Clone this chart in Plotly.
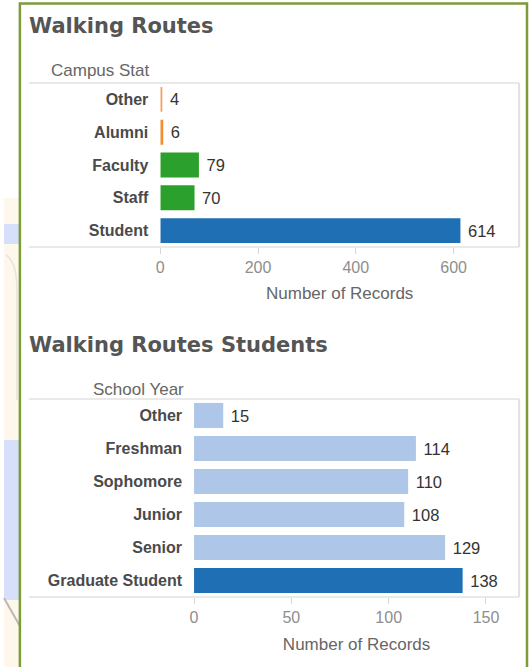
import plotly.graph_objects as go

# ---- data ----
campus_status = ["Other", "Alumni", "Faculty", "Staff", "Student"]
campus_records = [4, 6, 79, 70, 614]
campus_colors = ["#f4a15d", "#f28e2b", "#2ca02c", "#2ca02c", "#1f6fb4"]

school_years = ["Other", "Freshman", "Sophomore", "Junior", "Senior", "Graduate Student"]
school_records = [15, 114, 110, 108, 129, 138]
school_colors = ["#aec7e8", "#aec7e8", "#aec7e8", "#aec7e8", "#aec7e8", "#1f6fb4"]

campus_ticks = [0, 200, 400, 600]
school_ticks = [0, 50, 100, 150]

# ---- page geometry (pixels) ----
W, H = 529, 667


def fx(x):
    return x / W


def fy(y):
    return 1 - y / H


LABEL_FONT = dict(family="Liberation Sans, Arial, sans-serif", size=16, color="#4a4a4a")
VALUE_FONT = dict(family="Liberation Sans, Arial, sans-serif", size=16.5, color="#333333")
TICK_FONT = dict(family="Liberation Sans, Arial, sans-serif", size=16, color="#8e8e8e")
AXTITLE_FONT = dict(family="Liberation Sans, Arial, sans-serif", size=17, color="#666666")
TITLE_FONT = dict(family="DejaVu Sans, Verdana, sans-serif", size=21, color="#555555")
LINE = "#e2e2e2"


def value_text(values):
    # a no-break space keeps the label a little clear of the bar end
    return ["\u00a0" + str(v) for v in values]


fig = go.Figure()

fig.add_trace(go.Bar(
    x=campus_records, y=campus_status, orientation="h",
    marker=dict(color=campus_colors, line=dict(width=0)),
    text=value_text(campus_records), textposition="outside",
    textfont=VALUE_FONT, constraintext="none", cliponaxis=False,
    hoverinfo="skip", xaxis="x", yaxis="y",
))

fig.add_trace(go.Bar(
    x=school_records, y=school_years, orientation="h",
    marker=dict(color=school_colors, line=dict(width=0)),
    text=value_text(school_records), textposition="outside",
    textfont=VALUE_FONT, constraintext="none", cliponaxis=False,
    hoverinfo="skip", xaxis="x2", yaxis="y2",
))

axis_common = dict(
    showgrid=False, zeroline=False, showline=False,
    ticks="outside", ticklen=6, tickwidth=1, tickcolor="#d8d8d8",
    tickfont=TICK_FONT, fixedrange=True,
)
yaxis_common = dict(
    showgrid=False, zeroline=False, showline=False, ticks="",
    tickfont=dict(LABEL_FONT, weight="bold"), ticklabelstandoff=11,
    autorange="reversed", fixedrange=True,
)

fig.update_layout(
    width=W, height=H,
    margin=dict(l=0, r=0, t=0, b=0),
    paper_bgcolor="white", plot_bgcolor="rgba(0,0,0,0)",
    showlegend=False, bargap=0.24,
    xaxis=dict(axis_common, domain=[fx(157.5), fx(519)], range=[0, 734],
               tickvals=campus_ticks, anchor="y",
               title=dict(text="Number of Records", font=AXTITLE_FONT, standoff=11)),
    yaxis=dict(yaxis_common, domain=[fy(247), fy(83)], anchor="x"),
    xaxis2=dict(axis_common, domain=[fx(191.5), fx(519)], range=[0, 167],
                tickvals=school_ticks, anchor="y2",
                title=dict(text="Number of Records", font=AXTITLE_FONT, standoff=12)),
    yaxis2=dict(yaxis_common, domain=[fy(597), fy(399)], anchor="x2"),
)

shapes = []

# map-like backdrop on the strip left of the dashboard frame
shapes.append(dict(type="rect", xref="paper", yref="paper", layer="below",
                   x0=fx(0), x1=fx(16), y0=fy(667), y1=fy(198),
                   fillcolor="#fdf7ec", line=dict(width=0)))
shapes.append(dict(type="rect", xref="paper", yref="paper", layer="below",
                   x0=fx(0), x1=fx(16), y0=fy(244), y1=fy(224),
                   fillcolor="#d6e0fb", line=dict(width=0)))
shapes.append(dict(type="rect", xref="paper", yref="paper", layer="below",
                   x0=fx(0), x1=fx(16), y0=fy(600), y1=fy(440),
                   fillcolor="#d6e0fb", line=dict(width=0)))
shapes.append(dict(type="path", xref="paper", yref="paper", layer="below",
                   path=f"M {fx(0)},{fy(598)} L {fx(16)},{fy(626)}",
                   line=dict(color="#b9b9b9", width=2)))
shapes.append(dict(type="path", xref="paper", yref="paper", layer="below",
                   path=f"M {fx(2)},{fy(255)} Q {fx(13)},{fy(262)} {fx(13)},{fy(290)} "
                        f"L {fx(13)},{fy(400)}",
                   line=dict(color="#e6e4de", width=1.5)))

# dashboard frame
shapes.append(dict(type="rect", xref="paper", yref="paper",
                   x0=fx(16), x1=fx(527), y0=fy(690), y1=fy(3.5),
                   fillcolor="white", line=dict(color="#7c9c3a", width=2.5),
                   layer="below"))

# pane outlines: header rule, bottom rule, right edge
for top, bottom in [(83, 247), (399, 597)]:
    shapes.append(dict(type="line", xref="paper", yref="paper",
                       x0=fx(25), x1=fx(519), y0=fy(top), y1=fy(top),
                       line=dict(color=LINE, width=1.5)))
    shapes.append(dict(type="line", xref="paper", yref="paper",
                       x0=fx(25), x1=fx(519), y0=fy(bottom), y1=fy(bottom),
                       line=dict(color=LINE, width=1.5)))
    shapes.append(dict(type="line", xref="paper", yref="paper",
                       x0=fx(519), x1=fx(519), y0=fy(top), y1=fy(bottom),
                       line=dict(color=LINE, width=2)))

fig.update_layout(shapes=shapes)

annotations = [
    dict(text="Walking Routes", x=fx(23), y=fy(26), xanchor="left", yanchor="middle",
         font=dict(TITLE_FONT, weight="bold")),
    dict(text="Walking Routes Students", x=fx(23), y=fy(345), xanchor="left", yanchor="middle",
         font=dict(TITLE_FONT, weight="bold")),
    dict(text="Campus Stat", x=fx(149), y=fy(71), xanchor="right", yanchor="middle",
         font=AXTITLE_FONT),
    dict(text="School Year", x=fx(183), y=fy(389), xanchor="right", yanchor="middle",
         font=AXTITLE_FONT),
]
for a in annotations:
    a.update(xref="paper", yref="paper", showarrow=False)
fig.update_layout(annotations=annotations)

fig.write_html("out.html", config=dict(displayModeBar=False))
